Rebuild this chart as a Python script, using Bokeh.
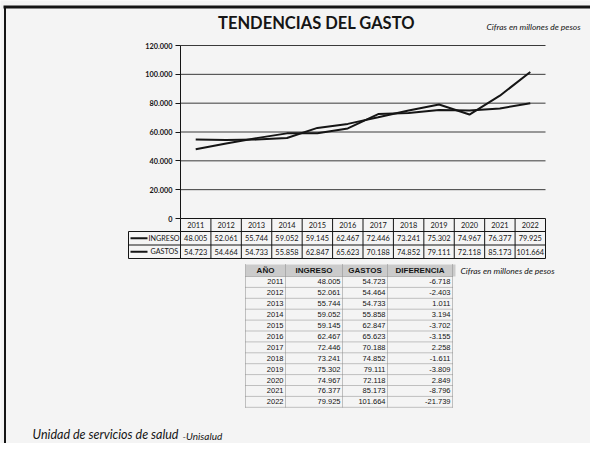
from bokeh.plotting import figure
from bokeh.models import (ColumnDataSource, Range1d, FixedTicker, CustomJSTickFormatter,
                          LinearAxis)
from bokeh.core.properties import value
from bokeh.embed import file_html
from bokeh.resources import INLINE

# ---------------- data ----------------
years = [2011, 2012, 2013, 2014, 2015, 2016, 2017, 2018, 2019, 2020, 2021, 2022]
ingreso = [48005, 52061, 55744, 59052, 59145, 62467, 72446, 73241, 75302, 74967, 76377, 79925]
gastos = [54723, 54464, 54733, 55858, 62847, 65623, 70188, 74852, 79111, 72118, 85173, 101664]
diferencia = [-6718, -2403, 1011, 3194, -3702, -3155, 2258, -1611, -3809, 2849, -8796, -21739]
y_ticks = [0, 20000, 40000, 60000, 80000, 100000, 120000]
series_names = ["INGRESO", "GASTOS"]
table_headers = ["AÑO", "INGRESO", "GASTOS", "DIFERENCIA"]
title_text = "TENDENCIAS DEL GASTO"
units_note = "Cifras en millones de pesos"
footer_main = "Unidad de servicios de salud"
footer_tail = "-Unisalud"


def fmt(v):
    s = f"{abs(v):,}".replace(",", ".")
    return ("-" if v < 0 else "") + s


# ---------------- layout (picture px) ----------------
W, H = 590, 443
FX0, FX1, FY0, FY1 = 180, 545, 45, 218   # chart area
BG = "#f4f4f4"
INK = "#151515"


def X(px):
    return px


def Y(py):
    return py


px_per_year = (FX1 - FX0) / len(years)
yr_start = (years[0] - 0.5) - X(FX0) / px_per_year
yr_end = yr_start + W / px_per_year
px_per_val = (FY1 - FY0) / (y_ticks[-1] - y_ticks[0])
val_start = y_ticks[0] - (H - Y(FY1)) / px_per_val
val_end = y_ticks[-1] + Y(FY0) / px_per_val

p = figure(width=W, height=H, x_range=Range1d(0, W), y_range=Range1d(H, 0),
           output_backend="svg", toolbar_location=None,
           x_axis_location=None, y_axis_location=None, min_border=0)
p.extra_x_ranges = {"yr": Range1d(yr_start, yr_end)}
p.extra_y_ranges = {"val": Range1d(val_start, val_end)}
p.background_fill_color = BG
p.border_fill_color = BG
p.outline_line_color = None
p.grid.visible = False

# ---------------- value axis ----------------
yax = LinearAxis(y_range_name="val", x_range_name="yr", fixed_location=years[0] - 0.5,
                 bounds=(y_ticks[0], y_ticks[-1]))
yax.ticker = FixedTicker(ticks=y_ticks)
yax.formatter = CustomJSTickFormatter(code="""
  return Math.round(tick).toString().replace(/\\B(?=(\\d{3})+(?!\\d))/g, '.');
""")
yax.axis_line_color = INK
yax.axis_line_width = 1
yax.major_tick_line_color = INK
yax.major_tick_out = 5
yax.major_tick_in = 0
yax.minor_tick_out = 0
yax.minor_tick_in = 0
yax.major_label_standoff = 3
yax.major_label_text_font = "Lato"
yax.major_label_text_font_style = "bold"
yax.major_label_text_font_size = "7.3px"
yax.major_label_text_color = INK
p.add_layout(yax, "left")

# grid lines at the value ticks
p.segment(x0=years[0] - 0.5, x1=years[-1] + 0.5, y0=y_ticks[1:], y1=y_ticks[1:],
          x_range_name="yr", y_range_name="val", line_color="#3a3a3a", line_width=1)

# ---------------- series lines ----------------
src = ColumnDataSource(dict(year=years, ingreso=ingreso, gastos=gastos))
p.line("year", "ingreso", source=src, x_range_name="yr", y_range_name="val",
       line_color=INK, line_width=2)
p.line("year", "gastos", source=src, x_range_name="yr", y_range_name="val",
       line_color=INK, line_width=2)


# ---------------- helpers (layout in picture px) ----------------
def seg_lines(segs, color=INK, width=1, dash="solid"):
    p.segment(x0=[X(s[0]) for s in segs], y0=[Y(s[1]) for s in segs],
              x1=[X(s[2]) for s in segs], y1=[Y(s[3]) for s in segs],
              line_color=color, line_width=width, line_dash=dash)


def label(px, py, text, size, font="Lato", style="normal", align="left", color=INK):
    p.text(x=[X(px)], y=[Y(py)], text=[text], text_font=value(font),
           text_font_size=value(size), text_font_style=style, text_align=align,
           text_baseline="middle", text_color=color)


# ---------------- slide border (top and left edges) ----------------
seg_lines([(3, 6.5, 590, 6.5)], width=3)
seg_lines([(4.5, 6, 4.5, 443)], width=2)

# ---------------- titles ----------------
label(316, 22, title_text, "16.5px", style="bold", align="center")
label(486, 26, units_note, "8.5px", style="italic")

# ---------------- data table under the chart ----------------
LEG_X = 128
row_top = [218, 231, 244.5, 258]
hsegs = [(FX0, row_top[0], FX1, row_top[0])] + [(LEG_X, y, FX1, y) for y in row_top[1:]]
vsegs = [(LEG_X, row_top[1], LEG_X, row_top[3])] + \
        [(FX0 + k * px_per_year, row_top[0], FX0 + k * px_per_year, row_top[3])
         for k in range(len(years) + 1)]
seg_lines(hsegs, width=1)
seg_lines(vsegs, width=1)

row_c = [(row_top[i] + row_top[i + 1]) / 2 for i in range(3)]
tx = years * 3
ty = [Y(row_c[0])] * len(years) + [Y(row_c[1])] * len(years) + [Y(row_c[2])] * len(years)
tt = [str(y) for y in years] + [fmt(v) for v in ingreso] + [fmt(v) for v in gastos]
p.text(x=tx, y=ty, text=tt, x_range_name="yr", text_align="center", text_baseline="middle",
       text_font=value("Lato"), text_font_size=value("7.4px"), text_color=INK)

# legend keys
seg_lines([(130, row_c[1], 147, row_c[1]), (130, row_c[2], 147, row_c[2])], width=2)
label(148, row_c[1], series_names[0], "7.2px")
label(150, row_c[2], series_names[1], "7.2px")

# ---------------- second table ----------------
T_COLS = [245, 285, 342, 387, 452]
T_HEAD_TOP, T_HEAD_BOT = 264, 276
T_ROW_H = 10.9
p.quad(left=[X(T_COLS[0])], right=[X(455)], top=[Y(T_HEAD_TOP)], bottom=[Y(T_HEAD_BOT)],
       fill_color="#cbcbcb", line_color=None)
row_lines = [T_HEAD_BOT + T_ROW_H * i for i in range(len(years) + 1)]
seg_lines([(T_COLS[0], y, T_COLS[-1], y) for y in row_lines], color="#8a8a8a", width=1, dash="1 1")
seg_lines([(x, T_HEAD_TOP, x, row_lines[-1]) for x in T_COLS], color="#8a8a8a", width=1, dash="1 1")

hc = (T_HEAD_TOP + T_HEAD_BOT) / 2
for i, h in enumerate(table_headers):
    label((T_COLS[i] + T_COLS[i + 1]) / 2, hc, h, "8px", font="Liberation Sans", style="bold",
          align="center")

rc = [T_HEAD_BOT + T_ROW_H * (i + 0.5) for i in range(len(years))]
cols_text = [[str(y) for y in years], [fmt(v) for v in ingreso], [fmt(v) for v in gastos],
             [fmt(v) for v in diferencia]]
bx, by, bt = [], [], []
for ci, ctext in enumerate(cols_text):
    for ri, t in enumerate(ctext):
        bx.append(X(T_COLS[ci + 1] - 2))
        by.append(Y(rc[ri]))
        bt.append(t)
p.text(x=bx, y=by, text=bt, text_align="right", text_baseline="middle",
       text_font=value("Liberation Sans"), text_font_size=value("7.5px"), text_color=INK)

label(460, hc, units_note, "8.5px", style="italic")

# ---------------- footer ----------------
label(32, 434, footer_main, "12.5px", style="italic")
label(182, 435, footer_tail, "10px", style="italic")

open("out.html", "w").write(file_html(p, INLINE))
